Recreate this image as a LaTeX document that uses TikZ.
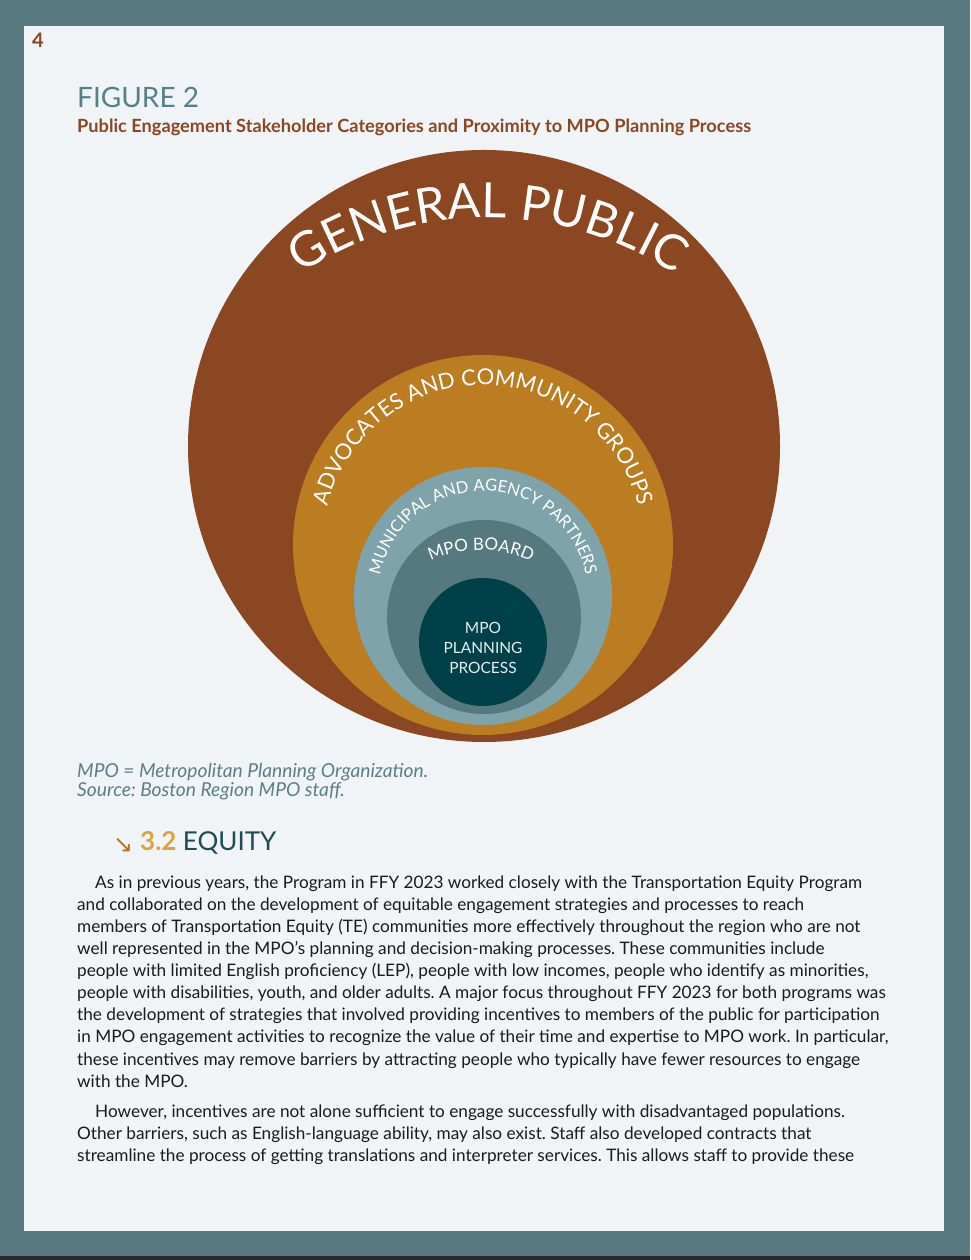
\documentclass[tikz,border=0pt]{standalone}
\usepackage{fontspec}
\setmainfont{Lato}
\newfontfamily\symfont{DejaVu Sans}
\usepackage{tikz}
\usetikzlibrary{positioning, decorations.text}

\definecolor{framegrey}{HTML}{587A80}
\definecolor{pagebg}{HTML}{F0F4F7}
\definecolor{darkedge}{HTML}{2A2A2A}
\definecolor{publicbrown}{HTML}{8B4722}
\definecolor{advorange}{HTML}{BB7C22}
\definecolor{munblue}{HTML}{7FA3AA}
\definecolor{boardslate}{HTML}{56787F}
\definecolor{coreteal}{HTML}{004048}
\definecolor{corelabel}{HTML}{E6EEF0}
\definecolor{figteal}{HTML}{55808A}
\definecolor{capteal}{HTML}{5A7F86}
\definecolor{secgold}{HTML}{D9A441}
\definecolor{secarrow}{HTML}{B8741E}
\definecolor{secteal}{HTML}{1F4B55}
\definecolor{bodyink}{HTML}{1B1B1B}

\newcommand{\gpfont}{\fontsize{48.5}{48.5}\selectfont}
\newcommand{\advfont}{\fontsize{22}{22}\selectfont}
\newcommand{\munfont}{\fontsize{16.5}{16.5}\selectfont}
\newcommand{\brdfont}{\fontsize{17}{17}\selectfont}

\tikzset{
  bodytxt/.style={anchor=base west, inner sep=0pt, text=bodyink,
    font=\fontsize{17.2}{17.2}\selectfont},
  captxt/.style={anchor=base west, inner sep=0pt, text=capteal,
    font=\fontsize{19.2}{19.2}\selectfont\itshape},
  ringtext/.style={decorate, decoration={text along path, text align=center,
    text color=white, text={#1}}}
}
\frenchspacing

\begin{document}
\begin{tikzpicture}[x=1pt, y=1pt]
    % Frame and page
    \fill[framegrey] (0,0) rectangle (970,1260);
    \fill[darkedge] (0,0) rectangle (970,4);
    \fill[pagebg] (24,29) rectangle (944,1234);
    \useasboundingbox (0,0) rectangle (970,1260);

    % Centres of the rings
    \coordinate (pubc) at (484,814);
    \coordinate (advc) at (483,715);
    \coordinate (munc) at (483,664);
    \coordinate (brdc) at (484,643);
    \coordinate (corc) at (483,618);

    % Centres of the lettering arcs
    \coordinate (pubt) at (488,702);
    \coordinate (brdt) at (481,590);

    % The rings, outside in
    \fill[publicbrown] (pubc) circle (296pt);
    \fill[advorange] (advc) circle (190pt);
    \fill[munblue] (munc) circle (129pt);
    \fill[boardslate] (brdc) circle (97pt);
    \fill[coreteal] (corc) circle (64pt);

    % Lettering on the rings
    \path[ringtext={|\gpfont|GENERAL PUBLIC}]
        (pubt) ++(124:340pt) arc[start angle=124, end angle=56, radius=340pt];
    \path[ringtext={|\advfont|ADVOCATES AND COMMUNITY GROUPS}]
        (advc) ++(168:160pt) arc[start angle=168, end angle=12, radius=160pt];
    \path[ringtext={|\munfont|MUNICIPAL AND AGENCY PARTNERS}]
        (munc) ++(167:105pt) arc[start angle=167, end angle=13, radius=105pt];
    \path[ringtext={|\brdfont|MPO BOARD}]
        (brdt) ++(115:120pt) arc[start angle=115, end angle=65, radius=120pt];
    \node[align=center, text=corelabel, font=\fontsize{15.5}{20}\selectfont]
        (core) at (483,612) {MPO\\PLANNING\\PROCESS};

    % Page number and figure title
    \node[anchor=base west, inner sep=0pt, text=publicbrown,
        font=\fontsize{20}{20}\selectfont\bfseries] (pgno) at (32,1212) {4};
    \node[anchor=base west, inner sep=0pt, text=figteal,
        font=\fontsize{28}{28}\selectfont] (fig) at (77,1152) {FIGURE 2};
    \node[anchor=base west, inner sep=0pt, text=publicbrown,
        font=\fontsize{18.2}{18.2}\selectfont\bfseries] (sub) at (77,1127)
        {Public Engagement Stakeholder Categories and Proximity to MPO Planning Process};

    % Notes under the figure
    \node[captxt] (cap1) at (77,482) {MPO = Metropolitan Planning Organization.};
    \node[captxt] (cap2) at (77,463) {Source: Boston Region MPO staff.};

    % Section heading
    \node[anchor=base west, inner sep=0pt, text=secarrow,
        font=\fontsize{24}{24}\selectfont\symfont] (arr) at (113,407) {↘};
    \node[anchor=base west, inner sep=0pt, text=secgold,
        font=\fontsize{26}{26}\selectfont\bfseries] (num) at (140,409) {3.2};
    \node[inner sep=0pt, text=secteal, font=\fontsize{26}{26}\selectfont,
        base right=6pt of num] (eqt) {EQUITY};

    % Body text
    \node[bodytxt] (b1) at (95,371) {As in previous years, the Program in FFY 2023 worked closely with the Transportation Equity Program};
    \node[bodytxt] (b2) at (77,349) {and collaborated on the development of equitable engagement strategies and processes to reach};
    \node[bodytxt] (b3) at (77,327) {members of Transportation Equity (TE) communities more effectively throughout the region who are not};
    \node[bodytxt] (b4) at (77,305) {well represented in the MPO’s planning and decision-making processes. These communities include};
    \node[bodytxt] (b5) at (77,283) {people with limited English proficiency (LEP), people with low incomes, people who identify as minorities,};
    \node[bodytxt] (b6) at (77,261) {people with disabilities, youth, and older adults. A major focus throughout FFY 2023 for both programs was};
    \node[bodytxt] (b7) at (77,239) {the development of strategies that involved providing incentives to members of the public for participation};
    \node[bodytxt] (b8) at (77,217) {in MPO engagement activities to recognize the value of their time and expertise to MPO work. In particular,};
    \node[bodytxt] (b9) at (77,194) {these incentives may remove barriers by attracting people who typically have fewer resources to engage};
    \node[bodytxt] (b10) at (77,172) {with the MPO.};
    \node[bodytxt] (b11) at (95,142) {However, incentives are not alone sufficient to engage successfully with disadvantaged populations.};
    \node[bodytxt] (b12) at (77,120) {Other barriers, such as English-language ability, may also exist. Staff also developed contracts that};
    \node[bodytxt] (b13) at (77,98) {streamline the process of getting translations and interpreter services. This allows staff to provide these};
\end{tikzpicture}
\end{document}
